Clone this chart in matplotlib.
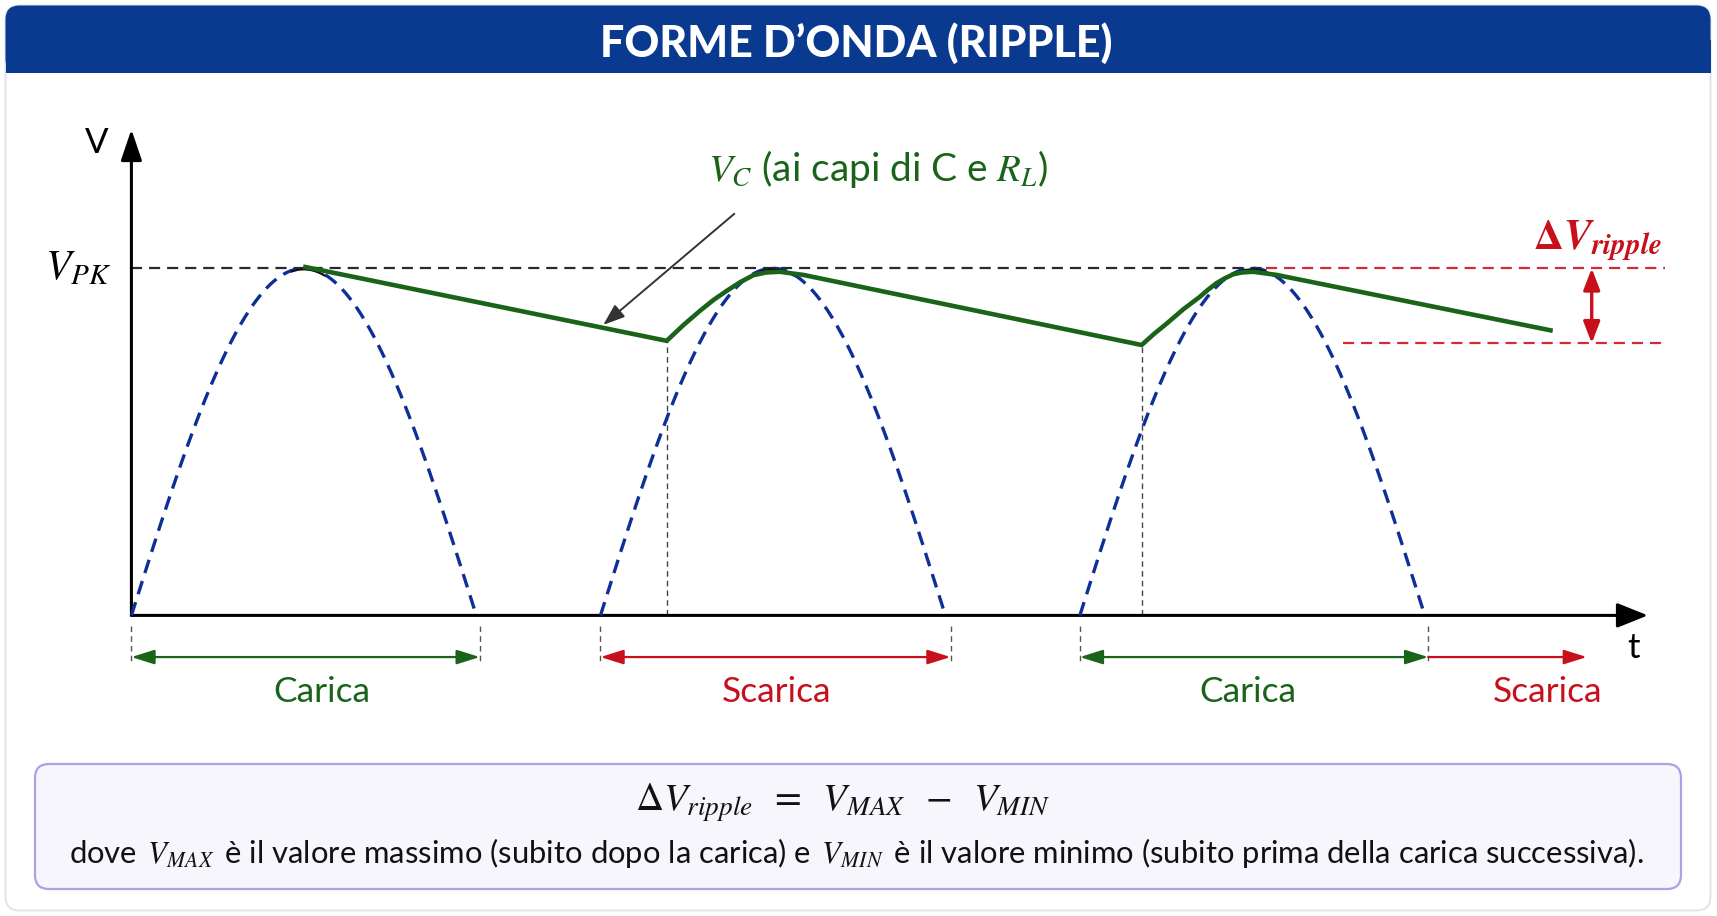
import numpy as np
import matplotlib
matplotlib.use('Agg')
import matplotlib.pyplot as plt
from matplotlib.patches import FancyBboxPatch, Rectangle

plt.rcParams['mathtext.fontset'] = 'stix'
plt.rcParams['font.family'] = ['Lato', 'DejaVu Sans']
plt.rcParams['lines.scale_dashes'] = False

# ---------------- data (time in ms, voltage normalised to V_PK) ----------------
V_PK = 1.0
arc_starts = [0.0, 13.6, 27.5]          # start of each rectified half-sine
arc_width = 10.0                        # duration of each half-sine
green_t = [4.98, 15.52, 16.00, 16.49, 16.88, 17.26, 17.65, 18.03, 18.40, 18.80, 19.48,
           29.29, 29.65, 30.02, 30.50, 30.98, 31.20, 31.46, 31.70, 31.95, 32.20, 32.53, 33.20, 41.21]
green_v = [1.005, 0.791, 0.836, 0.878, 0.909, 0.935, 0.960, 0.980, 0.988, 0.990, 0.981,
           0.779, 0.811, 0.841, 0.882, 0.918, 0.937, 0.957, 0.971, 0.983, 0.988, 0.990, 0.981, 0.820]
valley_t = [15.52, 29.29]
valley_v = [0.791, 0.779]
V_MAX = 1.0
V_MIN = 0.784
phase_spans = [(0.0, 10.1), (13.6, 23.75), (27.5, 37.6), (37.6, 42.2)]
phase_labels = ['Carica', 'Scarica', 'Carica', 'Scarica']
phase_kinds = ['c', 's', 'c', 's']
phase_ticks = [0.0, 10.1, 13.6, 23.75, 27.5, 37.6]

# ---------------- figure ----------------
W, H = 1717, 916
fig = plt.figure(figsize=(W / 100, H / 100), dpi=100)
fig.patch.set_facecolor('white')

GREEN = '#1a641a'
RED = '#c8101c'
BLUE = '#0c2f98'

# background / decoration layer in pixel units
bg = fig.add_axes([0, 0, 1, 1], zorder=0)
bg.set_xlim(0, W)
bg.set_ylim(H, 0)
bg.axis('off')
bg.add_patch(FancyBboxPatch((5.5, 5.5), 1705, 905, boxstyle='round,pad=0,rounding_size=14',
                            fc='white', ec='#dde1e8', lw=1.3))
bg.add_patch(FancyBboxPatch((5.5, 5.5), 1705, 67.5, boxstyle='round,pad=0,rounding_size=14',
                            fc='#0a3990', ec='none'))
bg.add_patch(Rectangle((5.5, 40), 1705, 33, fc='#0a3990', ec='none'))
bg.add_patch(FancyBboxPatch((35, 764), 1646, 125, boxstyle='round,pad=0,rounding_size=14',
                            fc='#f7f6fd', ec='#b29de6', lw=1.6))
bg.text(856, 43, 'FORME D’ONDA (RIPPLE)', color='white', fontsize=31, fontweight='black',
        ha='center', va='center')

bg.text(843, 803, r'$\Delta V_{ripple}\;\;=\;\;V_{MAX}\;\;-\;\;V_{MIN}$', fontsize=28,
        ha='center', va='center', color='#111111')
bg.text(856, 853, r'dove $\,V_{MAX}\,$ è il valore massimo (subito dopo la carica) e $\,V_{MIN}\,$ è il valore minimo (subito prima della carica successiva).',
        fontsize=22.3, ha='center', va='center', color='#111111')

# main chart layer in data units
ax = fig.add_axes([0, 0, 1, 1], zorder=1)
ax.patch.set_alpha(0)
px_per_ms = 34.49
px_per_v = 347.1
x0_px, y0_px = 131.4, 615.4
ax.set_xlim(-x0_px / px_per_ms, (W - x0_px) / px_per_ms)
ax.set_ylim((y0_px - H) / px_per_v, y0_px / px_per_v)
ax.axis('off')

# axes arrows
t_end = 43.97
v_top = 1.40
ax.annotate('', xy=(t_end, 0), xytext=(0, 0),
            arrowprops=dict(arrowstyle='-|>,head_length=0.5,head_width=0.2', lw=2.2,
                            color='black', mutation_scale=38, shrinkA=0, shrinkB=0))
ax.annotate('', xy=(0, v_top), xytext=(0, 0),
            arrowprops=dict(arrowstyle='-|>,head_length=0.5,head_width=0.17', lw=2.2,
                            color='black', mutation_scale=38, shrinkA=0, shrinkB=0))
ax.text(-1.0, 1.36, 'V', fontsize=25, ha='center', va='center', color='black')
ax.text(43.55, -0.095, 't', fontsize=25, ha='center', va='center', color='black')
ax.text(-1.55, 1.0, r'$V_{PK}$', fontsize=30, ha='center', va='center', color='black')

# V_PK reference line (black part, then red part for ripple)
t_switch = 32.9
t_right = 44.46
ax.plot([0, t_switch], [V_PK, V_PK], color='#2a2a2a', lw=1.6, dashes=(8, 5), zorder=2)
ax.plot([t_switch, t_right], [V_MAX, V_MAX], color='#d42a34', lw=1.6, dashes=(8, 5), zorder=2)
ax.plot([35.13, t_right], [V_MIN, V_MIN], color='#d42a34', lw=1.6, dashes=(8, 5), zorder=2)

# rectified half sines
for s in arc_starts:
    t = np.linspace(s, s + arc_width, 300)
    v = V_PK * np.sin(np.pi * (t - s) / arc_width)
    ax.plot(t, v, color=BLUE, lw=2.4, dashes=(10, 6), zorder=3)
    tp = np.linspace(s + arc_width / 2 - 0.35, s + arc_width / 2 + 0.6, 30)
    ax.plot(tp, V_PK * np.sin(np.pi * (tp - s) / arc_width) * 0.997, color='#111111', lw=1.6, zorder=3)

# valley markers
for tv, vv in zip(valley_t, valley_v):
    ax.plot([tv, tv], [0, vv], color='#444444', lw=1.0, dashes=(4, 3), zorder=2)

# capacitor voltage
ax.plot(green_t, green_v, color=GREEN, lw=3.3, solid_joinstyle='round', solid_capstyle='butt', zorder=4)

# V_C label + pointer
ax.text(21.65, 1.285, r'$V_C$ (ai capi di C e $R_L$)', fontsize=28, color=GREEN,
        ha='center', va='center')
ax.annotate('', xy=(13.68, 0.837), xytext=(17.48, 1.157),
            arrowprops=dict(arrowstyle='-|>,head_length=0.6,head_width=0.22', lw=1.4,
                            color='#333333', mutation_scale=22, shrinkA=0, shrinkB=0), zorder=5)

# ripple double arrow + label
ax.annotate('', xy=(42.34, V_MAX), xytext=(42.34, V_MIN),
            arrowprops=dict(arrowstyle='<|-|>,head_length=0.65,head_width=0.25', lw=2.4,
                            color=RED, mutation_scale=20, shrinkA=0, shrinkB=0), zorder=5)
ax.text(42.5, 1.08, r'$\mathbf{\Delta}\mathbfit{V}_{\mathbfit{ripple}}$', fontsize=30, color=RED,
        ha='center', va='center')

# phase markers below axis
for tk in phase_ticks:
    ax.plot([tk, tk], [-0.03, -0.135], color='#555555', lw=1.0, dashes=(4, 3))
label_t = [5.52, 18.7, 32.38, 41.05]
for (a, b), lab, kind, lt in zip(phase_spans, phase_labels, phase_kinds, label_t):
    col = GREEN if kind == 'c' else RED
    style = '<|-|>' if b - a > 6 else '-|>'
    ax.annotate('', xy=(b, -0.12), xytext=(a, -0.12),
                arrowprops=dict(arrowstyle=style + ',head_length=0.7,head_width=0.22', lw=1.6,
                                color=col, mutation_scale=20, shrinkA=0, shrinkB=0))
    ax.text(lt, -0.222, lab, fontsize=25.5, color=col, ha='center', va='center')

fig.savefig('out.png', dpi=100)
